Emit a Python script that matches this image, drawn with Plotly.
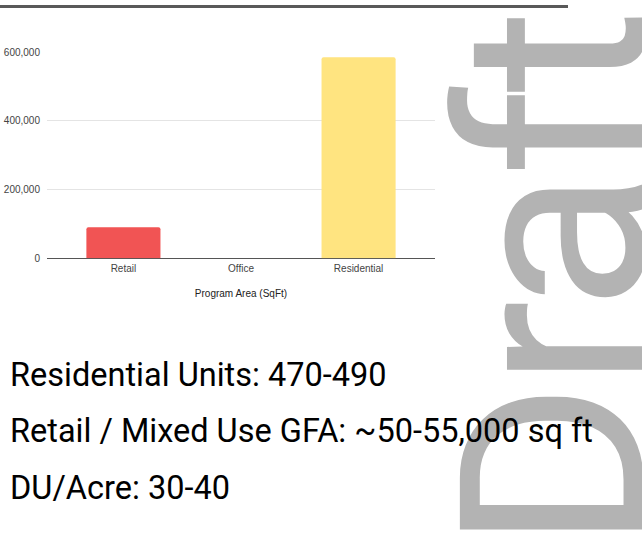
import plotly.graph_objects as go

# program areas
categories = ["Retail", "Office", "Residential"]
area_sqft = [90000, 0, 585000]
bar_colors = ["#f15454", "#cccccc", "#ffe480"]

ytick_vals = [0, 200000, 400000, 600000]
ytick_text = ["0", "200,000", "400,000", "600,000"]

notes = [
    "Residential Units: 470-490",
    "Retail / Mixed Use GFA: ~50-55,000 sq ft",
    "DU/Acre: 30-40",
]

W, H = 642, 542

fig = go.Figure()
fig.add_trace(go.Bar(
    x=categories,
    y=area_sqft,
    marker=dict(color=bar_colors, line=dict(width=0)),
    width=0.63,
    hoverinfo="x+y",
))

fig.update_layout(
    width=W, height=H,
    margin=dict(l=0, r=0, t=0, b=0),
    paper_bgcolor="white",
    plot_bgcolor="white",
    showlegend=False,
    barcornerradius=2,
    font=dict(family="Arial, Liberation Sans, sans-serif", color="#444"),
    xaxis=dict(
        domain=[47 / W, 435 / W],
        range=[-0.65, 2.65],
        showgrid=False,
        showline=False,
        ticks="",
        ticklabelstandoff=3,
        tickfont=dict(size=10, color="#444"),
        title=dict(text="Program Area (SqFt)", font=dict(size=10, color="#222"), standoff=16),
    ),
    yaxis=dict(
        domain=[1 - 258 / H, 1 - 48 / H],
        range=[0, 600000],
        tickvals=ytick_vals,
        ticktext=ytick_text,
        tickfont=dict(size=10, color="#444"),
        gridcolor="#e4e4e4",
        zeroline=True,
        zerolinecolor="#555",
        zerolinewidth=1,
        ticks="",
        ticklabelstandoff=6,
    ),
)

# dark strip at top
fig.add_shape(type="rect", xref="paper", yref="paper",
              x0=0, x1=568 / W, y0=1 - 3 / H, y1=1,
              fillcolor="#595959", line=dict(width=0), layer="above")

# watermark
fig.add_annotation(
    text='<span style="letter-spacing:-6px">Draft</span>', textangle=-90, showarrow=False,
    xref="paper", yref="paper",
    x=402 / W, xanchor="left",
    y=1 - 558 / H, yanchor="bottom",
    font=dict(family="Roboto", size=258, color="#b3b3b3", weight=400),
)

# notes text
note_y = [377, 434, 492]
for t, yy in zip(notes, note_y):
    fig.add_annotation(
        text=t,
        showarrow=False, xref="paper", yref="paper",
        x=8 / W, xanchor="left", y=1 - yy / H, yanchor="middle",
        font=dict(family="Roboto", size=32.5, color="#000000"),
    )

fig.write_html("out.html", config={"displayModeBar": False},
               post_script="document.body.style.margin='0';")
